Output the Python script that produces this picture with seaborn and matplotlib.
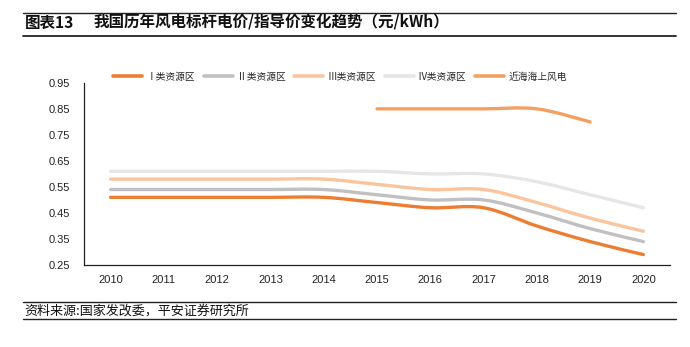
import numpy as np
import pandas as pd
import matplotlib
matplotlib.use("Agg")
import matplotlib.pyplot as plt
from matplotlib.path import Path
from matplotlib.patches import PathPatch
from matplotlib.lines import Line2D
import seaborn as sns

# Benchmark / guide prices of wind power by resource zone (yuan/kWh)
years = ["2010", "2011", "2012", "2013", "2014", "2015", "2016", "2017", "2018", "2019", "2020"]
zone1 = [0.51, 0.51, 0.51, 0.51, 0.51, 0.49, 0.47, 0.47, 0.40, 0.34, 0.29]
zone2 = [0.54, 0.54, 0.54, 0.54, 0.54, 0.52, 0.50, 0.50, 0.45, 0.39, 0.34]
zone3 = [0.58, 0.58, 0.58, 0.58, 0.58, 0.56, 0.54, 0.54, 0.49, 0.43, 0.38]
zone4 = [0.61, 0.61, 0.61, 0.61, 0.61, 0.61, 0.60, 0.60, 0.57, 0.52, 0.47]
offshore = [None, None, None, None, None, 0.85, 0.85, 0.85, 0.85, 0.80, None]
series_names = ["Ⅰ类资源区", "Ⅱ类资源区", "Ⅲ类资源区", "Ⅳ类资源区", "近海海上风电"]
y_ticks = [0.25, 0.35, 0.45, 0.55, 0.65, 0.75, 0.85, 0.95]

colors = ["#ED7D31", "#C0C0C0", "#FAC49C", "#E6E6E6", "#F4A062"]

sns.set_theme(style="white")
plt.rcParams["font.family"] = ["Liberation Sans", "Noto Sans CJK SC", "DejaVu Sans"]
cjk = ["Noto Sans CJK SC", "DejaVu Sans"]

rows = []
for name, vals in zip(series_names, [zone1, zone2, zone3, zone4, offshore]):
    for i, v in enumerate(vals):
        if v is not None:
            rows.append({"idx": i, "price": v, "series": name})
df = pd.DataFrame(rows)

fig = plt.figure(figsize=(6.9, 3.47), dpi=100)
ax = fig.add_axes([0.1217, 0.2363, 0.8493, 0.525])

sns.lineplot(data=df, x="idx", y="price", hue="series", hue_order=series_names,
             palette=colors, linewidth=2.4, ax=ax, legend=False, sort=False)


def smooth_path(x, y, t=1 / 6):
    """Cardinal-spline Bezier path through the given points."""
    n = len(x)
    verts = [(x[0], y[0])]
    codes = [Path.MOVETO]
    for i in range(n - 1):
        x0, y0 = (x[i - 1], y[i - 1]) if i > 0 else (x[i], y[i])
        x3, y3 = (x[i + 2], y[i + 2]) if i + 2 < n else (x[i + 1], y[i + 1])
        c1 = (x[i] + (x[i + 1] - x0) * t, y[i] + (y[i + 1] - y0) * t)
        c2 = (x[i + 1] - (x3 - x[i]) * t, y[i + 1] - (y3 - y[i]) * t)
        verts += [c1, c2, (x[i + 1], y[i + 1])]
        codes += [Path.CURVE4] * 3
    return Path(verts, codes)


# Render the seaborn lines as smoothed curves (same data, same colours)
for line, col in zip(list(ax.lines), colors):
    xd, yd = line.get_xdata(), line.get_ydata()
    line.set_visible(False)
    patch = PathPatch(smooth_path(np.asarray(xd, float), np.asarray(yd, float)),
                      facecolor="none", edgecolor=col, linewidth=2.4,
                      capstyle="round", joinstyle="round", zorder=3)
    ax.add_patch(patch)

ax.set_xlim(-0.5, len(years) - 0.5)
ax.set_ylim(0.25, 0.95)
ax.set_yticks(y_ticks)
ax.set_yticklabels([f"{v:.2f}" for v in y_ticks], fontsize=8, color="#222222")
ax.set_xticks(range(len(years)))
ax.set_xticklabels(years, fontsize=8, color="#222222")
ax.set_xlabel("")
ax.set_ylabel("")
# boundary ticks between categories on the x axis
ax.set_xticks(np.arange(-0.5, len(years)), minor=True)
ax.tick_params(axis="x", which="major", length=0, pad=7)
ax.tick_params(axis="x", which="minor", direction="in", length=4, width=0.8, color="#222222")
ax.tick_params(axis="y", direction="in", length=4, width=0.8, color="#222222", pad=10)

for side in ["top", "right"]:
    ax.spines[side].set_visible(False)
for side in ["left", "bottom"]:
    ax.spines[side].set_color("#222222")
    ax.spines[side].set_linewidth(0.9)

handles = [Line2D([0], [0], color=c, linewidth=2.6) for c in colors]
leg = ax.legend(handles, series_names, loc="upper left", bbox_to_anchor=(0.035, 1.11),
                ncol=5, frameon=False, handlelength=3.0, columnspacing=0.9,
                handletextpad=0.4, prop={"family": cjk, "size": 7})

# Title block with rules above and below
fig.text(0.036, 0.934, "图表13", fontsize=11.2, fontweight="bold", family=cjk,
         va="center", ha="left", color="#111111")
fig.text(0.136, 0.934, "我国历年风电标杆电价/指导价变化趋势（元/kWh）",
         fontsize=11.2, fontweight="bold", family=cjk, va="center", ha="left", color="#111111")
fig.add_artist(Line2D([0.033, 0.98], [0.962, 0.962], color="#222222", linewidth=1.0))
fig.add_artist(Line2D([0.033, 0.98], [0.895, 0.895], color="#222222", linewidth=1.3))

# Source note with rules
fig.text(0.036, 0.104, "资料来源:国家发改委，平安证券研究所", fontsize=9.4, style="italic",
         family=cjk, va="center", ha="left", color="#111111")
fig.add_artist(Line2D([0.033, 0.98], [0.131, 0.131], color="#222222", linewidth=1.0))
fig.add_artist(Line2D([0.033, 0.98], [0.080, 0.080], color="#222222", linewidth=1.0))

fig.savefig("out.png", dpi=100)
